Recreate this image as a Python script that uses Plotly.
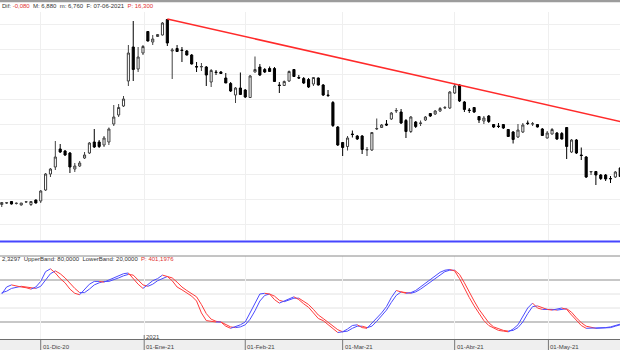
import pandas as pd
import plotly.graph_objects as go

# ---- trading calendar (BME) ----
holidays = ["2020-12-25", "2021-01-01", "2021-04-02", "2021-04-05"]
days = [d for d in pd.bdate_range("2020-11-19", "2021-05-21") if d.strftime("%Y-%m-%d") not in holidays]
dates = [d.strftime("%Y-%m-%d") for d in days]

# ---- daily OHLC ----
opens = [6.15, 6.18, 6.21, 6.17, 6.14, 6.20, 6.15, 6.24, 6.22, 6.44,
         6.76, 6.90, 7.26, 7.22, 7.18, 6.86, 6.92, 7.08, 7.18, 7.40,
         7.40, 7.34, 7.40, 7.76, 7.94, 8.12, 8.62, 9.30, 8.86, 9.18,
         9.61, 9.40, 9.51, 9.54, 9.85, 9.22, 9.27, 9.24, 9.22, 9.14,
         8.91, 8.90, 8.90, 8.60, 8.80, 8.80, 8.68, 8.57, 8.34, 8.48,
         8.44, 8.29, 8.80, 8.90, 8.85, 8.87, 8.87, 8.54, 8.53, 8.62,
         8.85, 8.69, 8.67, 8.65, 8.56, 8.68, 8.54, 8.34, 8.19, 7.70,
         7.39, 7.31, 7.56, 7.52, 7.52, 7.24, 7.24, 7.66, 7.69, 7.76,
         7.86, 8.02, 8.00, 7.83, 7.61, 7.80, 7.77, 7.84, 7.97, 7.96,
         8.02, 8.08, 8.08, 8.38, 8.54, 8.20, 8.04, 8.09, 7.91, 7.82,
         7.92, 7.75, 7.72, 7.75, 7.65, 7.60, 7.50, 7.60, 7.78, 7.76,
         7.75, 7.66, 7.48, 7.56, 7.58, 7.57, 7.69, 7.20, 7.44, 7.14,
         7.10, 6.80, 6.81, 6.74, 6.74, 6.67, 6.70, 6.88]
highs = [6.20, 6.20, 6.22, 6.19, 6.18, 6.22, 6.21, 6.25, 6.44, 6.78,
         6.88, 7.42, 7.36, 7.24, 7.20, 6.98, 7.02, 7.20, 7.40, 7.66,
         7.44, 7.52, 7.69, 8.14, 8.16, 8.32, 9.34, 9.82, 9.30, 9.34,
         9.62, 9.54, 9.56, 9.80, 9.86, 9.28, 9.34, 9.30, 9.24, 9.16,
         9.00, 8.98, 8.92, 8.86, 8.84, 8.82, 8.78, 8.60, 8.50, 8.79,
         8.46, 8.74, 9.11, 8.96, 8.88, 8.91, 8.90, 8.60, 8.63, 8.83,
         8.86, 8.74, 8.70, 8.68, 8.70, 8.69, 8.56, 8.44, 8.22, 7.72,
         7.40, 7.52, 7.63, 7.54, 7.54, 7.30, 7.60, 7.87, 7.76, 7.84,
         8.00, 8.08, 8.06, 7.86, 7.92, 7.82, 7.83, 7.92, 7.98, 8.04,
         8.10, 8.12, 8.42, 8.56, 8.56, 8.22, 8.08, 8.10, 7.92, 7.92,
         7.94, 7.76, 7.78, 7.76, 7.66, 7.62, 7.76, 7.78, 7.83, 7.80,
         7.76, 7.68, 7.62, 7.68, 7.60, 7.60, 7.70, 7.46, 7.46, 7.29,
         7.12, 6.82, 6.82, 6.76, 6.76, 6.72, 6.82, 6.90]
lows = [6.10, 6.16, 6.15, 6.15, 6.13, 6.18, 6.12, 6.17, 6.18, 6.42,
        6.70, 6.84, 7.18, 7.12, 6.78, 6.80, 6.90, 7.06, 7.16, 7.28,
        7.28, 7.30, 7.34, 7.72, 7.90, 8.10, 8.52, 8.62, 8.80, 9.14,
        9.41, 9.34, 9.50, 9.53, 9.32, 8.66, 9.20, 9.00, 9.13, 8.95,
        8.80, 8.82, 8.52, 8.50, 8.74, 8.76, 8.58, 8.40, 8.18, 8.34,
        8.28, 8.28, 8.79, 8.72, 8.78, 8.80, 8.60, 8.38, 8.52, 8.60,
        8.70, 8.66, 8.56, 8.48, 8.52, 8.53, 8.32, 8.30, 7.70, 7.32,
        7.12, 7.23, 7.49, 7.44, 7.16, 7.12, 7.22, 7.64, 7.68, 7.72,
        7.84, 7.98, 7.76, 7.48, 7.58, 7.68, 7.72, 7.82, 7.90, 7.94,
        8.00, 8.06, 8.06, 8.36, 8.20, 8.00, 7.98, 7.98, 7.78, 7.76,
        7.78, 7.68, 7.68, 7.66, 7.50, 7.37, 7.48, 7.58, 7.74, 7.72,
        7.69, 7.52, 7.47, 7.55, 7.44, 7.45, 7.06, 7.18, 7.16, 7.04,
        6.68, 6.74, 6.54, 6.64, 6.62, 6.58, 6.68, 6.70]
closes = [6.19, 6.185, 6.16, 6.175, 6.18, 6.205, 6.21, 6.18, 6.42, 6.76,
          6.86, 7.10, 7.20, 7.14, 6.90, 6.92, 6.98, 7.14, 7.38, 7.30,
          7.31, 7.48, 7.66, 7.90, 8.09, 8.26, 9.18, 8.85, 9.10, 9.31,
          9.42, 9.46, 9.55, 9.78, 9.38, 9.24, 9.21, 9.23, 9.14, 8.96,
          8.90, 8.91, 8.74, 8.83, 8.79, 8.77, 8.58, 8.42, 8.48, 8.35,
          8.30, 8.72, 8.85, 8.74, 8.80, 8.81, 8.61, 8.53, 8.61, 8.81,
          8.71, 8.68, 8.58, 8.50, 8.69, 8.54, 8.34, 8.33, 7.73, 7.34,
          7.29, 7.48, 7.55, 7.46, 7.25, 7.25, 7.59, 7.67, 7.74, 7.74,
          7.98, 8.03, 7.78, 7.61, 7.90, 7.71, 7.78, 7.90, 7.92, 8.02,
          8.07, 8.09, 8.40, 8.52, 8.22, 8.05, 8.03, 8.00, 7.84, 7.88,
          7.81, 7.70, 7.71, 7.68, 7.51, 7.45, 7.64, 7.74, 7.77, 7.765,
          7.70, 7.53, 7.58, 7.65, 7.46, 7.46, 7.31, 7.44, 7.18, 7.13,
          6.70, 6.81, 6.74, 6.67, 6.66, 6.665, 6.80, 6.71]

# ---- stochastic oscillator (%K and %D) ----
stoch_k = [60, 70, 73, 71, 70, 69, 67, 70, 78, 92,
           96, 90, 82, 76, 67, 61, 59, 67, 74, 78,
           78, 77, 80, 83, 86, 89, 90, 82, 74, 68,
           74, 79, 82, 87, 85, 79, 70, 66, 62, 57,
           50, 33, 22, 21, 20, 20, 14, 11, 13, 16,
           20, 34, 48, 60, 61, 60, 52, 47, 50, 54,
           56, 52, 46, 41, 33, 25, 22, 16, 10, 5,
           6, 10, 15, 16, 12, 11, 18, 26, 33, 42,
           55, 65, 63, 61, 62, 65, 70, 75, 80, 86,
           91, 94, 95, 93, 82, 68, 55, 43, 33, 22,
           15, 11, 8, 7, 6, 10, 16, 28, 40, 47,
           40, 38, 38, 37, 38, 40, 38, 30, 23, 15,
           11, 11, 11, 11, 12, 13, 15, 17]
stoch_d = [62, 64, 68, 70, 71, 70, 69, 68, 71, 80,
           89, 93, 89, 83, 75, 68, 62, 62, 67, 73,
           76, 78, 78, 80, 83, 86, 88, 87, 80, 73,
           71, 74, 79, 82, 85, 83, 77, 70, 65, 61,
           56, 45, 32, 24, 21, 20, 17, 13, 12, 13,
           16, 24, 36, 50, 58, 60, 57, 51, 49, 51,
           54, 54, 50, 45, 38, 30, 25, 20, 14, 9,
           6, 7, 11, 14, 14, 12, 14, 21, 29, 37,
           48, 58, 63, 62, 61, 63, 67, 72, 77, 82,
           88, 92, 94, 94, 88, 76, 62, 50, 38, 28,
           19, 13, 10, 8, 7, 8, 12, 20, 32, 42,
           43, 40, 38, 38, 37, 38, 39, 34, 26, 19,
           14, 12, 11, 11, 11, 12, 14, 16]

# ---- resistance line (two anchor points) ----
trend_x = [34, 127]
trend_y = [9.86, 7.81]

# ---- axis labels ----
month_starts = ["2020-12-01", "2021-01-01", "2021-02-01", "2021-03-01", "2021-04-01", "2021-05-01"]
month_labels = ["01-Dic-20", "01-Ene-21", "01-Feb-21", "01-Mar-21", "01-Abr-21", "01-May-21"]
year_label = "2021"

header_parts = [("Dif: ", "#333333"), ("-0,080", "#e03030"), ("  M: 6,880  m: 6,760  F: 07-06-2021  ", "#333333"),
                ("P: 16,300", "#e03030")]
stoch_parts = [("2,3297  UpperBand: 80,0000  LowerBand: 20,0000  ", "#333333"), ("P: 401,1976", "#e03030")]

W, H = 620, 350
FONT = "Liberation Sans"


def py(px):
    """pixel row (from top) -> paper y"""
    return (H - px) / H


def month_pos(day):
    ts = pd.Timestamp(day)
    for k, d in enumerate(days):
        if d >= ts:
            return float(k) if d == ts else k - 0.75
    return float(len(days) - 1)


xi = list(range(len(dates)))
tick_pos = [month_pos(d) for d in month_starts]
x_range = [-0.36, 126.95]

fig = go.Figure()

fig.add_trace(go.Candlestick(
    x=xi, open=opens, high=highs, low=lows, close=closes,
    increasing=dict(line=dict(color="#404040", width=1), fillcolor="#ffffff"),
    decreasing=dict(line=dict(color="#000000", width=1), fillcolor="#000000"),
    whiskerwidth=0, xaxis="x", yaxis="y", showlegend=False, hoverinfo="skip"))

fig.add_trace(go.Scatter(x=trend_x, y=trend_y, mode="lines",
                         line=dict(color="#ff2a2a", width=1.5),
                         xaxis="x", yaxis="y", showlegend=False, hoverinfo="skip"))


def colored_line(values):
    """split a series into rising (blue) and falling (red) runs"""
    runs = []
    cur_dir, cur = None, []
    for k in range(len(values) - 1):
        d = values[k + 1] >= values[k]
        if d != cur_dir:
            if cur:
                runs.append((cur_dir, cur))
            cur = [k]
            cur_dir = d
        cur.append(k + 1)
    if cur:
        runs.append((cur_dir, cur))
    for up, idx in runs:
        fig.add_trace(go.Scatter(
            x=[xi[k] for k in idx], y=[values[k] for k in idx], mode="lines",
            line=dict(color="#4b4bff" if up else "#ff3b3b", width=1),
            xaxis="x2", yaxis="y2", showlegend=False, hoverinfo="skip"))


colored_line(stoch_d)
colored_line(stoch_k)

shapes = []
# header rule
shapes.append(dict(type="rect", xref="paper", yref="paper", x0=0, x1=1, y0=py(2.2), y1=1,
                   fillcolor="#9c9c9c", line_width=0, layer="above"))
# separator line under price pane
shapes.append(dict(type="line", xref="paper", yref="paper", x0=0, x1=1, y0=py(241.5), y1=py(241.5),
                   line=dict(color="#4646ff", width=2)))
# oscillator frame
for px, col in [(256, "#8a8a8a"), (339.5, "#6e6e6e")]:
    shapes.append(dict(type="line", xref="paper", yref="paper", x0=0, x1=1, y0=py(px), y1=py(px),
                       line=dict(color=col, width=1)))
for lvl, col in [(80, "#8f8f8f"), (20, "#8f8f8f"), (60, "#e2e2e2"), (40, "#e2e2e2")]:
    shapes.append(dict(type="line", xref="paper", yref="y2", x0=0, x1=1, y0=lvl, y1=lvl,
                       line=dict(color=col, width=1), layer="below"))
# date strip
shapes.append(dict(type="rect", xref="paper", yref="paper", x0=0, x1=1, y0=0, y1=py(340),
                   fillcolor="#efefef", line_width=0, layer="below"))
for k, tp in enumerate(tick_pos):
    top = 335 if month_labels[k].endswith("Ene-21") else 340
    shapes.append(dict(type="line", xref="x2", yref="paper", x0=tp, x1=tp, y0=py(top), y1=0,
                       line=dict(color="#777777", width=1)))

annotations = []


def rich(parts):
    return "".join(f"<span style='color:{c}'>{t}</span>" for t, c in parts)


annotations.append(dict(xref="paper", yref="paper", x=0, y=py(6), xanchor="left", yanchor="middle",
                        text=rich(header_parts), showarrow=False, font=dict(family=FONT, size=6)))
annotations.append(dict(xref="paper", yref="paper", x=0, y=py(259), xanchor="left", yanchor="middle",
                        text=rich(stoch_parts), showarrow=False, font=dict(family=FONT, size=6)))
for tp, lab in zip(tick_pos, month_labels):
    annotations.append(dict(xref="x2", yref="paper", x=tp, y=py(346.5), xanchor="left", yanchor="middle",
                            xshift=0, text=lab, showarrow=False,
                            font=dict(family=FONT, size=6, color="#444444")))
annotations.append(dict(xref="x2", yref="paper", x=tick_pos[1], y=py(337), xanchor="left", yanchor="middle",
                        text=year_label, showarrow=False, font=dict(family=FONT, size=6, color="#444444")))

fig.update_layout(
    width=W, height=H, margin=dict(l=0, r=0, t=0, b=0),
    paper_bgcolor="#ffffff", plot_bgcolor="rgba(0,0,0,0)",
    shapes=shapes, annotations=annotations, boxgap=0.38,
    xaxis=dict(domain=[0, 1], range=x_range, anchor="y", tickvals=tick_pos, showticklabels=False,
               showgrid=True, gridcolor="#efefef", gridwidth=1, zeroline=False, showline=False,
               ticks="", rangeslider=dict(visible=False), fixedrange=True),
    yaxis=dict(domain=[py(240), py(12)], range=[5.44, 10.0], tick0=0.25, dtick=0.5,
               showticklabels=False, showgrid=True, gridcolor="#efefef", gridwidth=1,
               zeroline=False, showline=False, ticks=""),
    xaxis2=dict(domain=[0, 1], range=x_range, anchor="y2", matches="x", tickvals=tick_pos,
                showticklabels=False, showgrid=True, gridcolor="#f1f1f1", zeroline=False,
                showline=False, ticks=""),
    yaxis2=dict(domain=[py(339.5), py(256)], range=[-5.0, 114.3], showticklabels=False,
                showgrid=False, zeroline=False, showline=False, ticks=""),
    showlegend=False,
)

fig.write_html("out.html")
